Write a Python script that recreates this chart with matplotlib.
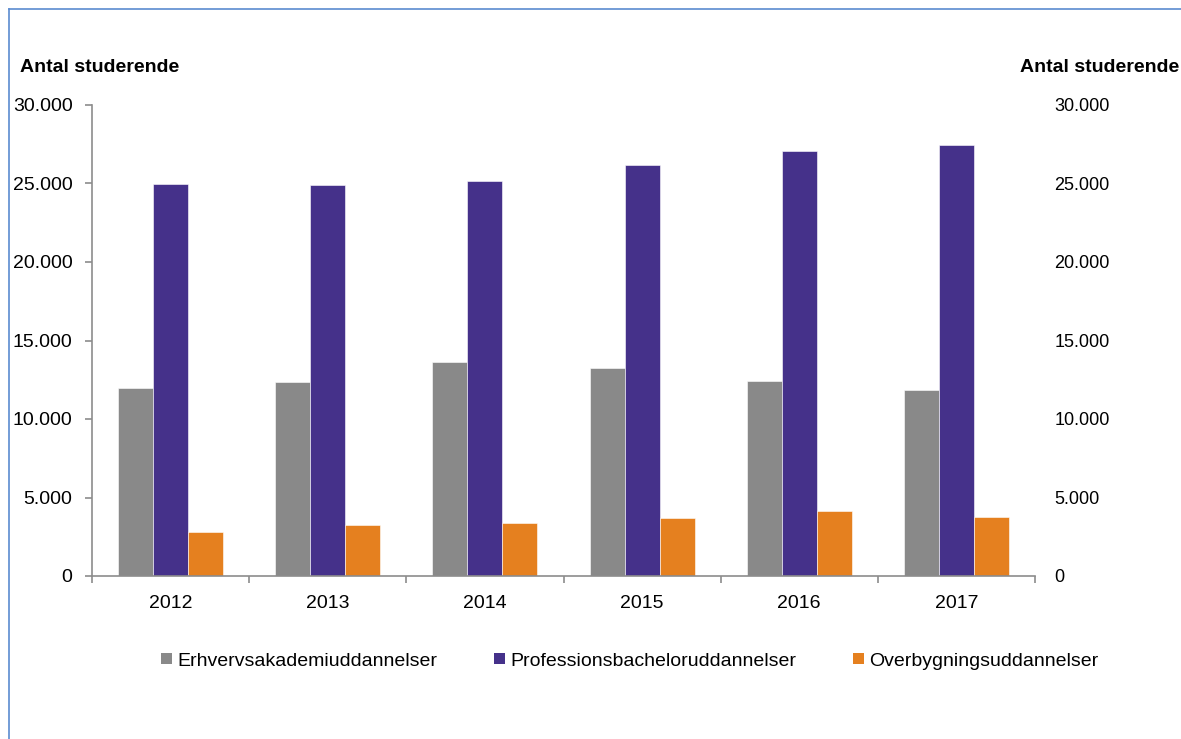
import numpy as np
import matplotlib
matplotlib.use("Agg")
import matplotlib.pyplot as plt
from matplotlib.lines import Line2D
from matplotlib.patches import Patch
from matplotlib.ticker import FuncFormatter, FixedLocator

# Data (antal studerende)
years = ["2012", "2013", "2014", "2015", "2016", "2017"]
erhvervsakademi = [12000, 12350, 13600, 13250, 12450, 11830]
professionsbachelor = [24970, 24880, 25140, 26180, 27050, 27450]
overbygning = [2780, 3230, 3380, 3670, 4140, 3780]

series_names = ["Erhvervsakademiuddannelser", "Professionsbacheloruddannelser",
                "Overbygningsuddannelser"]
colors = ["#898989", "#45318a", "#e5801f"]

plt.rcParams["font.family"] = ["Liberation Sans", "DejaVu Sans"]

fig = plt.figure(figsize=(11.81, 7.39), dpi=100)
ax = fig.add_axes([92 / 1181, 1 - 576 / 739, (1035 - 92) / 1181, (576 - 105) / 739])

x = np.arange(len(years))
width = 0.223
for i, (vals, col) in enumerate(zip([erhvervsakademi, professionsbachelor, overbygning], colors)):
    ax.bar(x + (i - 1) * width, vals, width, color=col, edgecolor="white", linewidth=0.4)

axis_col = "#8c8c8c"
ax.set_xlim(-0.5, len(years) - 0.5)
ax.set_ylim(0, 30000)
ax.set_yticks(np.arange(0, 30001, 5000))
thousands = FuncFormatter(lambda v, p: f"{int(v):,}".replace(",", "."))
ax.yaxis.set_major_formatter(thousands)
for s in ["top", "right"]:
    ax.spines[s].set_visible(False)
for s in ["left", "bottom"]:
    ax.spines[s].set_color(axis_col)
    ax.spines[s].set_linewidth(1.2)

ax.set_xticks(x)
ax.set_xticklabels(years)
ax.xaxis.set_minor_locator(FixedLocator(np.arange(-0.5, len(years), 1.0)))
ax.tick_params(axis="x", which="major", length=0, pad=14, labelsize=14)
ax.tick_params(axis="x", which="minor", length=5, color=axis_col, width=1.2)
ax.tick_params(axis="y", length=5, color=axis_col, width=1.2, pad=9, labelsize=14)

ax2 = ax.twinx()
ax2.set_ylim(0, 30000)
ax2.set_yticks(np.arange(0, 30001, 5000))
ax2.yaxis.set_major_formatter(thousands)
for s in ax2.spines.values():
    s.set_visible(False)
ax2.tick_params(axis="y", length=0, pad=14, labelsize=13)

fig.text(20 / 1181, 1 - 67 / 739, "Antal studerende", fontsize=14, fontweight="bold",
         ha="left", va="center")
fig.text(1179 / 1181, 1 - 67 / 739, "Antal studerende", fontsize=14, fontweight="bold",
         ha="right", va="center")

handles = [Patch(facecolor=c, edgecolor="none") for c in colors]
fig.legend(handles, series_names, loc="center", bbox_to_anchor=(630 / 1181, 1 - 661 / 739),
           ncol=3, frameon=False, fontsize=14, handlelength=0.55, handleheight=0.55,
           handletextpad=0.3, columnspacing=2.9)

# Blue frame lines (top and left)
frame_col = "#5b8bd0"
fig.add_artist(Line2D([9 / 1181, 9 / 1181], [0, 1 - 9 / 739], color=frame_col, linewidth=1.2))
fig.add_artist(Line2D([9 / 1181, 1], [1 - 9 / 739, 1 - 9 / 739], color=frame_col, linewidth=1.2))

fig.savefig("out.png", dpi=100)
